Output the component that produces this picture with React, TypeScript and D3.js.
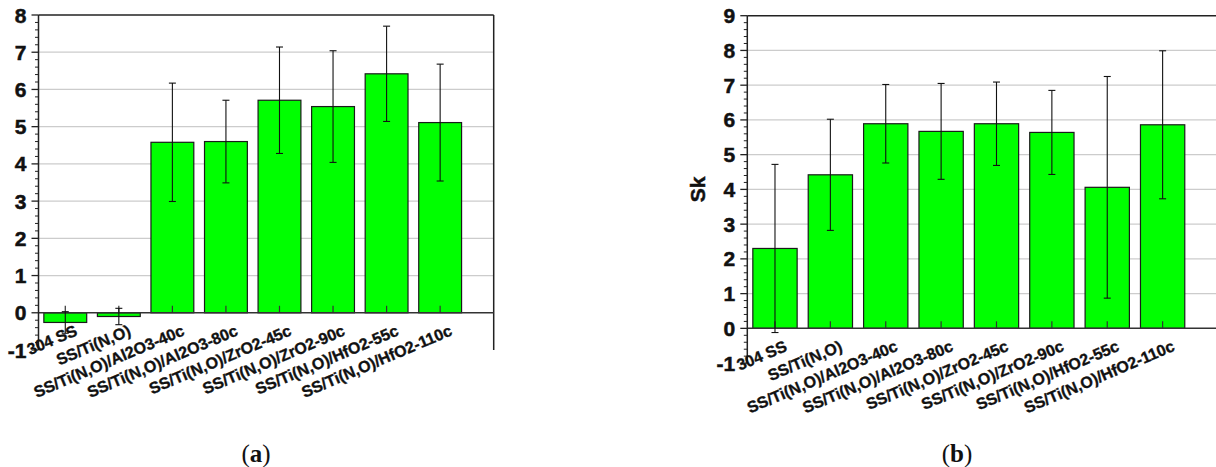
import React from "react";
import * as d3 from "d3";

const categories = [
  "304 SS",
  "SS/Ti(N,O)",
  "SS/Ti(N,O)/Al2O3-40c",
  "SS/Ti(N,O)/Al2O3-80c",
  "SS/Ti(N,O)/ZrO2-45c",
  "SS/Ti(N,O)/ZrO2-90c",
  "SS/Ti(N,O)/HfO2-55c",
  "SS/Ti(N,O)/HfO2-110c",
];

// Panel (a)
const valuesA = [-0.26, -0.1, 4.58, 4.6, 5.71, 5.54, 6.42, 5.11];
const errorsA = [0.29, 0.22, 1.59, 1.11, 1.43, 1.5, 1.28, 1.57];
const ticksA = [-1, 0, 1, 2, 3, 4, 5, 6, 7, 8];

// Panel (b)
const valuesB = [2.3, 4.42, 5.89, 5.67, 5.89, 5.64, 4.06, 5.86];
const errorsB = [2.42, 1.6, 1.13, 1.38, 1.2, 1.21, 3.19, 2.13];
const ticksB = [-1, 0, 1, 2, 3, 4, 5, 6, 7, 8, 9];

const FONT = "Arial, 'Liberation Sans', Helvetica, sans-serif";

type PanelProps = {
  values: number[];
  errors: number[];
  ticks: number[];
  yDomain: [number, number];
  xRange: [number, number];
  yRange: [number, number];
  yLabel?: string;
  yLabelX?: number;
};

function Panel({ values, errors, ticks, yDomain, xRange, yRange, yLabel, yLabelX }: PanelProps) {
  const x = d3.scaleLinear().domain([0.5, 9]).range(xRange);
  const y = d3.scaleLinear().domain(yDomain).range(yRange);
  const unit = x(2) - x(1);
  const barW = unit * 0.8;
  const x0 = xRange[0];
  const x1 = xRange[1];
  const minorTicks: number[] = [];
  for (let v = yDomain[0]; v <= yDomain[1] + 1e-9; v += 0.2) {
    const r = Math.round(v * 10) / 10;
    if (Math.abs(r - Math.round(r)) > 1e-6) minorTicks.push(r);
  }
  const y0 = y(0);
  return (
    <g>
      {ticks
        .filter((t) => t > 0 && t < yDomain[1])
        .map((t) => (
          <line key={"g" + t} x1={x0} x2={x1} y1={y(t)} y2={y(t)} stroke="#cccccc" strokeWidth={1.3} />
        ))}
      {values.map((v, i) => (
        <rect
          key={"b" + i}
          x={x(i + 1) - barW / 2}
          y={Math.min(y(v), y0)}
          width={barW}
          height={Math.abs(y(v) - y0)}
          fill="#00ff00"
          stroke="#1a1a1a"
          strokeWidth={1.2}
        />
      ))}
      <line x1={x0} x2={x1} y1={y(yDomain[1])} y2={y(yDomain[1])} stroke="#222" strokeWidth={1.5} />
      <line x1={x1} x2={x1} y1={y(yDomain[1])} y2={y(yDomain[0])} stroke="#222" strokeWidth={1.5} />
      <line x1={x0} x2={x1} y1={y0} y2={y0} stroke="#333" strokeWidth={1.5} />
      {values.map((_, i) => (
        <line key={"xt" + i} x1={x(i + 1)} x2={x(i + 1)} y1={y0} y2={y0 - 7} stroke="#333" strokeWidth={1.2} />
      ))}
      {values.map((v, i) => {
        const cx = x(i + 1);
        return (
          <g key={"e" + i} stroke="#111" strokeWidth={1.1}>
            <line x1={cx} x2={cx} y1={y(v + errors[i])} y2={y(v - errors[i])} />
            <line x1={cx - 3.5} x2={cx + 3.5} y1={y(v + errors[i])} y2={y(v + errors[i])} />
            <line x1={cx - 3.5} x2={cx + 3.5} y1={y(v - errors[i])} y2={y(v - errors[i])} />
          </g>
        );
      })}
      <line x1={x0} x2={x0} y1={y(yDomain[1])} y2={y(yDomain[0])} stroke="#222" strokeWidth={1.5} />
      {ticks.map((t) => (
        <line key={"yt" + t} x1={x0 - 7} x2={x0} y1={y(t)} y2={y(t)} stroke="#222" strokeWidth={1.3} />
      ))}
      {minorTicks.map((t) => (
        <line key={"ym" + t} x1={x0 - 3.5} x2={x0} y1={y(t)} y2={y(t)} stroke="#222" strokeWidth={1} />
      ))}
      {ticks.map((t) => (
        <text
          key={"yl" + t}
          x={x0 - 12}
          y={y(t)}
          dy="0.36em"
          textAnchor="end"
          fontFamily={FONT}
          fontWeight={700}
          fontSize={21}
          fill="#111"
          stroke="#111"
          strokeWidth={0.5}
        >
          {t}
        </text>
      ))}
      {categories.map((c, i) => {
        const ax = x(i + 1) + 13;
        const ay = y0 + 22;
        return (
          <text
            key={"xl" + i}
            x={ax}
            y={ay}
            textAnchor="end"
            transform={`rotate(-23 ${ax} ${ay})`}
            fontFamily={FONT}
            fontWeight={700}
            fontSize={16}
            fill="#111"
            stroke="#111"
            strokeWidth={0.35}
          >
            {c}
          </text>
        );
      })}
      {yLabel && yLabelX !== undefined && (
        <text
          x={yLabelX}
          y={(yRange[0] + yRange[1]) / 2}
          textAnchor="middle"
          dy="0.36em"
          transform={`rotate(-90 ${yLabelX} ${(yRange[0] + yRange[1]) / 2})`}
          fontFamily={FONT}
          fontWeight={700}
          fontSize={21}
          fill="#111"
          stroke="#111"
          strokeWidth={0.5}
        >
          {yLabel}
        </text>
      )}
    </g>
  );
}

export default function App() {
  return (
    <svg
      width={1216}
      height={467}
      viewBox="0 0 1216 467"
      style={{ position: "absolute", left: 0, top: 0, background: "#fff" }}
    >
      <rect x={0} y={0} width={1216} height={467} fill="#fff" />
      <Panel
        values={valuesA}
        errors={errorsA}
        ticks={ticksA}
        yDomain={[-1, 8]}
        xRange={[38.5, 493.7]}
        yRange={[350, 15]}
      />
      <Panel
        values={valuesB}
        errors={errorsB}
        ticks={ticksB}
        yDomain={[-1, 9]}
        xRange={[747.3, 1218]}
        yRange={[363.1, 15.7]}
        yLabel="Sk"
        yLabelX={697}
      />
      <text x={256} y={453} dy="0.35em" textAnchor="middle" fontFamily="'Liberation Serif', 'DejaVu Serif', serif" fontSize={25} fill="#111">
        (<tspan fontWeight="bold">a</tspan>)
      </text>
      <text x={957} y={453} dy="0.35em" textAnchor="middle" fontFamily="'Liberation Serif', 'DejaVu Serif', serif" fontSize={25} fill="#111">
        (<tspan fontWeight="bold">b</tspan>)
      </text>
    </svg>
  );
}
